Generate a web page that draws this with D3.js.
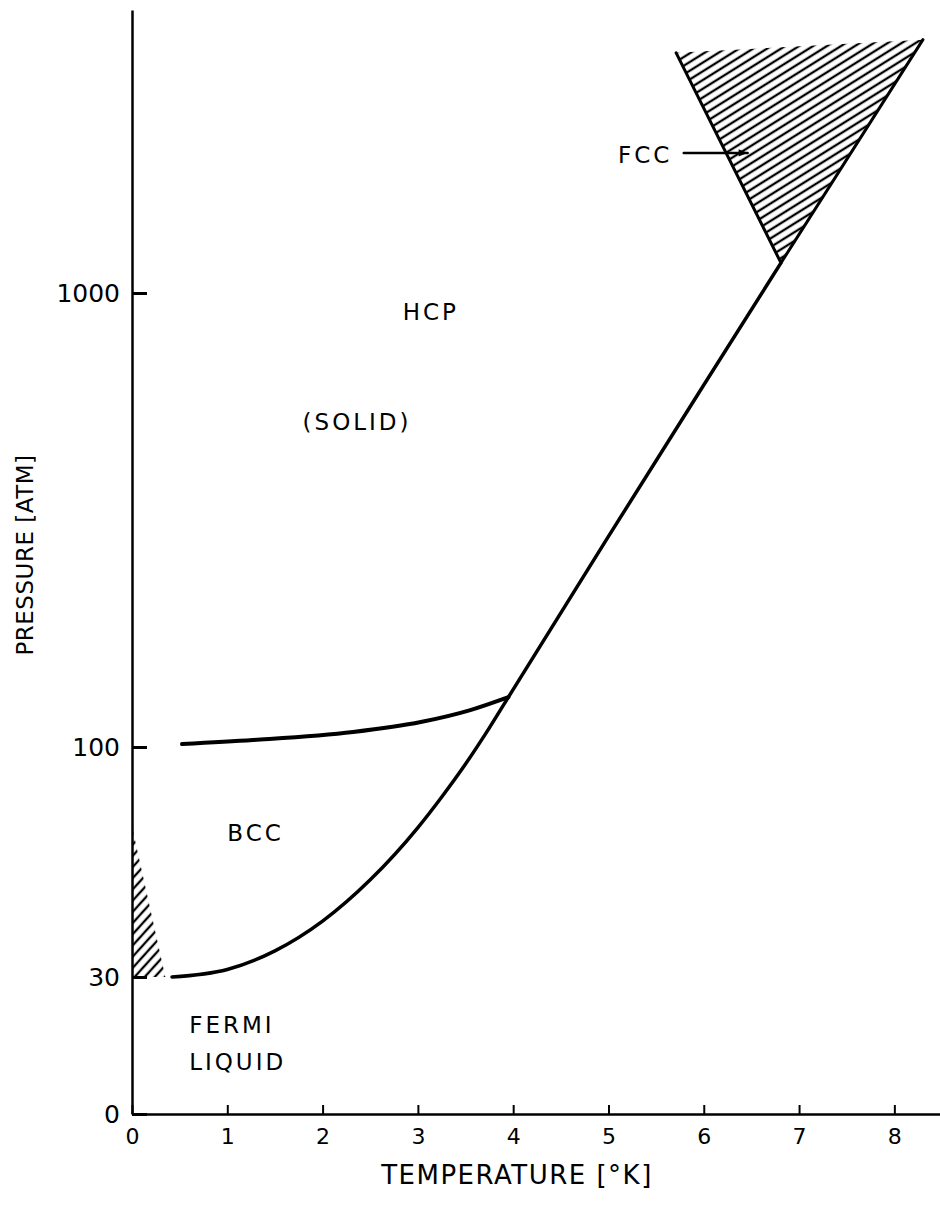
<!DOCTYPE html>
<html>
<head>
<meta charset="utf-8">
<script src="https://cdn.jsdelivr.net/npm/d3@7"></script>
<style>
  body { margin: 0; background: #fff; }
  svg text { font-family: "DejaVu Sans", sans-serif; fill: #000; }
  .axis path, .axis line { stroke: #000; }
  .curve { fill: none; stroke: #000; stroke-linecap: round; stroke-linejoin: round; }
</style>
</head>
<body>
<svg id="chart" width="940" height="1212"></svg>
<script>
// Phasendiagramm He-3: Temperatur (K) gegen Druck (atm), Achse gebrochen bei 30 atm

// --- Daten ---
const T_TICKS = [0, 1, 2, 3, 4, 5, 6, 7, 8];
const P_TICKS = [0, 30, 100, 1000];

// Schmelzkurve (Fermi-Fluessigkeit / fest), geht oben in die FCC-Spitze
const meltT = [0.42, 1.0, 1.5, 2.0, 2.5, 3.0, 3.25, 3.5, 3.75, 3.95, 5.0, 6.0, 6.81];
const meltP = [30, 31.2, 34.4, 40.2, 49.9, 65.6, 77.0, 91.5, 110.2, 128.8, 291, 627, 1165];

// BCC / HCP Grenze
const bhT = [0.525, 1.27, 2.32, 3.03, 3.55, 3.95];
const bhP = [101.5, 103.6, 107.9, 113.5, 120.6, 128.8];

// FCC-Gebiet (Dreieck): links oben, unten, rechts oben
const fccT = [5.71, 6.81, 8.30];
const fccP = [3380, 1165, 3614];

// schraffierter Keil an der Druckachse
const wedgeT = [0, 0, 0.35];
const wedgeP = [66, 30, 30];

// Beschriftungen im Diagramm (Datenkoordinaten)
const labelText = ["HCP", "(SOLID)", "BCC", "FERMI", "LIQUID", "FCC"];
const labelT = [2.84, 1.79, 1.0, 0.6, 0.6, 5.1];
const labelP = [910, 520, 64, 19.5, 11.4, 2020];

const arrowT = [5.79, 6.46];
const arrowP = [2035, 2035];

const P_TOP = 4200;

// --- Skalen ---
const svg = d3.select("#chart");

const x = d3.scaleLinear().domain([0, 8.5]).range([132, 942]);
const yLow = d3.scaleLinear().domain([0, 30]).range([1114, 977]);
const yHigh = d3.scaleLog().domain([30, 100, 1000]).range([977, 747, 293]);
const y = p => (p < 30 ? yLow(p) : yHigh(p));

const yAxisDomain = P_TICKS.concat([P_TOP]);
const yAxisScale = d3.scaleLinear().domain(yAxisDomain).range(yAxisDomain.map(y));

const zip = (a, b) => a.map((v, i) => [v, b[i]]);
const line = d3.line().x(d => x(d[0])).y(d => y(d[1]));

// --- Schraffur ---
const defs = svg.append("defs");

function hatch(id, w, angle, sw) {
  const p = defs.append("pattern")
    .attr("id", id)
    .attr("patternUnits", "userSpaceOnUse")
    .attr("width", w)
    .attr("height", 20)
    .attr("patternTransform", `rotate(${angle})`);
  p.append("line")
    .attr("x1", w / 2).attr("x2", w / 2)
    .attr("y1", 0).attr("y2", 20)
    .attr("stroke", "#000")
    .attr("stroke-width", sw);
}
hatch("hatch-fcc", 7.4, 58, 2.3);
hatch("hatch-wedge", 7.5, 42, 2.3);

defs.append("marker")
  .attr("id", "arrow")
  .attr("viewBox", "0 0 10 10")
  .attr("refX", 10).attr("refY", 5)
  .attr("markerWidth", 24).attr("markerHeight", 9)
  .attr("markerUnits", "userSpaceOnUse")
  .attr("orient", "auto")
  .append("path")
  .attr("d", "M0,1 L10,5 L0,9 Z")
  .attr("fill", "#000");

svg.append("path")
  .attr("d", line(zip(fccT, fccP)) + "Z")
  .attr("fill", "url(#hatch-fcc)");

svg.append("path")
  .attr("d", line(zip(wedgeT, wedgeP)) + "Z")
  .attr("fill", "url(#hatch-wedge)");

// FCC-Raender (links und rechts)
svg.append("path")
  .attr("class", "curve")
  .attr("stroke-width", 3)
  .attr("d", line(zip(fccT, fccP)));

// --- Kurven ---
const smooth = d3.line().curve(d3.curveMonotoneX).x(d => x(d[0])).y(d => y(d[1]));

svg.append("path")
  .attr("class", "curve")
  .attr("stroke-width", 3.5)
  .attr("d", smooth(zip(meltT, meltP)));

svg.append("path")
  .attr("class", "curve")
  .attr("stroke-width", 4)
  .attr("d", smooth(zip(bhT, bhP)));

// --- Achsen ---
const xAxisG = svg.append("g")
  .attr("class", "axis")
  .attr("transform", `translate(0,${y(0)})`)
  .call(d3.axisBottom(x).tickValues(T_TICKS).tickSize(-9).tickSizeOuter(0).tickPadding(14));
xAxisG.select(".domain").attr("stroke-width", 2.5);
xAxisG.selectAll(".tick line").attr("stroke-width", 2);
xAxisG.selectAll("text").attr("font-size", 22).attr("font-family", null);

const yAxisG = svg.append("g")
  .attr("class", "axis")
  .attr("transform", `translate(${x(0)},0)`)
  .call(d3.axisLeft(yAxisScale).tickValues(P_TICKS).tickFormat(d3.format("d"))
    .tickSize(-15).tickSizeOuter(0).tickPadding(12));
yAxisG.select(".domain").attr("stroke-width", 2.5);
yAxisG.selectAll(".tick line").attr("stroke-width", 3);
yAxisG.selectAll("text").attr("font-size", 25).attr("font-family", null);

svg.append("text")
  .attr("x", 517)
  .attr("y", y(0) + 70)
  .attr("text-anchor", "middle")
  .attr("font-size", 26)
  .attr("letter-spacing", 1.5)
  .text("TEMPERATURE  [\u00b0K]");

svg.append("text")
  .attr("transform", "translate(25,555) rotate(-90)")
  .attr("text-anchor", "middle")
  .attr("dy", "0.36em")
  .attr("font-size", 23)
  .attr("letter-spacing", 0.5)
  .text("PRESSURE  [ATM]");

// --- Beschriftungen ---
svg.append("g").selectAll("text")
  .data(labelText)
  .enter()
  .append("text")
  .attr("x", (d, i) => x(labelT[i]))
  .attr("y", (d, i) => y(labelP[i]))
  .attr("dy", "0.36em")
  .attr("font-size", 23)
  .attr("letter-spacing", 3)
  .text(d => d);

svg.append("path")
  .attr("class", "curve")
  .attr("stroke-width", 2.5)
  .attr("marker-end", "url(#arrow)")
  .attr("d", line(zip(arrowT, arrowP)));
</script>
</body>
</html>
